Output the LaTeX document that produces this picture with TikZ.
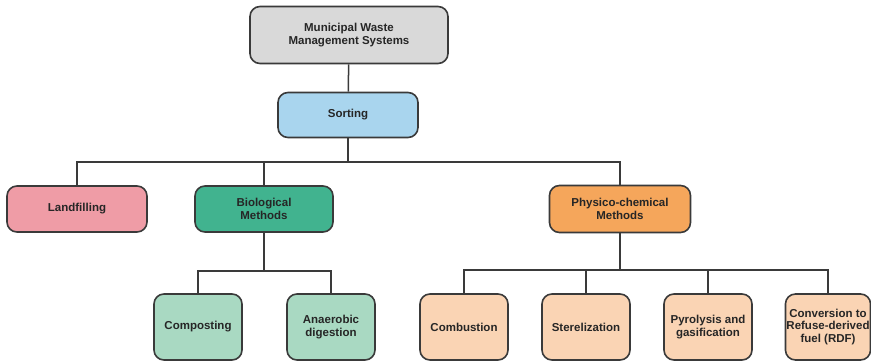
\documentclass[tikz,border=0pt]{standalone}
\usepackage{fontspec}
\setmainfont{Liberation Sans}
\usepackage{tikz}

\definecolor{boxgray}{HTML}{D9D9D9}
\definecolor{boxblue}{HTML}{A9D5EE}
\definecolor{boxpink}{HTML}{EF9CA6}
\definecolor{boxgreen}{HTML}{41B38F}
\definecolor{boxmint}{HTML}{A9D9C2}
\definecolor{boxorange}{HTML}{F5A65B}
\definecolor{boxpeach}{HTML}{FAD4B4}
\definecolor{edgegray}{HTML}{3A3A3A}

\tikzset{
    wastebox/.style={draw=edgegray, line width=1.6pt, rounded corners=10pt,
        align=center, font=\bfseries\fontsize{11.5}{12.5}\selectfont, text=black!85,
        inner sep=2pt},
    linkline/.style={draw=edgegray, line width=1.5pt}
}

\begin{document}
\begin{tikzpicture}[x=1pt, y=-1pt]
            \useasboundingbox (0,0) rectangle (871,363);

            \node[wastebox, fill=boxgray, minimum width=198pt, minimum height=57pt] (msw) at (349,35) {Municipal Waste\\Management Systems};
            \node[wastebox, fill=boxblue, minimum width=140pt, minimum height=45pt] (sorting) at (348,115) {Sorting};

            \node[wastebox, fill=boxpink, minimum width=140pt, minimum height=46pt] (landfill) at (77,209) {Landfilling};
            \node[wastebox, fill=boxgreen, minimum width=138pt, minimum height=46pt] (biological) at (264,209) {Biological\\Methods};
            \node[wastebox, fill=boxorange, minimum width=141pt, minimum height=47pt] (physchem) at (620,209) {Physico-chemical\\Methods};

            \node[wastebox, fill=boxmint, minimum width=88pt, minimum height=66pt] (compost) at (198,327) {Composting};
            \node[wastebox, fill=boxmint, minimum width=88pt, minimum height=66pt] (anaerobic) at (331,327) {Anaerobic\\digestion};

            \node[wastebox, fill=boxpeach, minimum width=88pt, minimum height=66pt] (combust) at (464,327) {Combustion};
            \node[wastebox, fill=boxpeach, minimum width=88pt, minimum height=66pt] (steril) at (586,327) {Sterelization};
            \node[wastebox, fill=boxpeach, minimum width=88pt, minimum height=66pt] (pyrolysis) at (708,327) {Pyrolysis and\\gasification};
            \node[wastebox, fill=boxpeach, minimum width=84pt, minimum height=66pt, inner sep=1pt] (rdf) at (828,327) {Conversion to\\Refuse-derived\\fuel (RDF)};

            % joints of the bars
            \coordinate (sortbar) at (348,162);
            \coordinate (biobar) at (264,271);
            \coordinate (physbar) at (620,270);

            \draw[linkline] (msw) -- (sorting);
            \draw[linkline] (sorting) -- (sortbar);
            \draw[linkline] (landfill.north) |- (sortbar) -| (physchem.north);
            \draw[linkline] (biological.north) -- (biological.north |- sortbar);

            \draw[linkline] (biological) -- (biobar);
            \draw[linkline] (compost.north) |- (biobar) -| (anaerobic.north);

            \draw[linkline] (physchem) -- (physbar);
            \draw[linkline] (combust.north) |- (physbar) -| (rdf.north);
            \draw[linkline] (steril.north) -- (steril.north |- physbar);
            \draw[linkline] (pyrolysis.north) -- (pyrolysis.north |- physbar);

        \end{tikzpicture}
\end{document}
